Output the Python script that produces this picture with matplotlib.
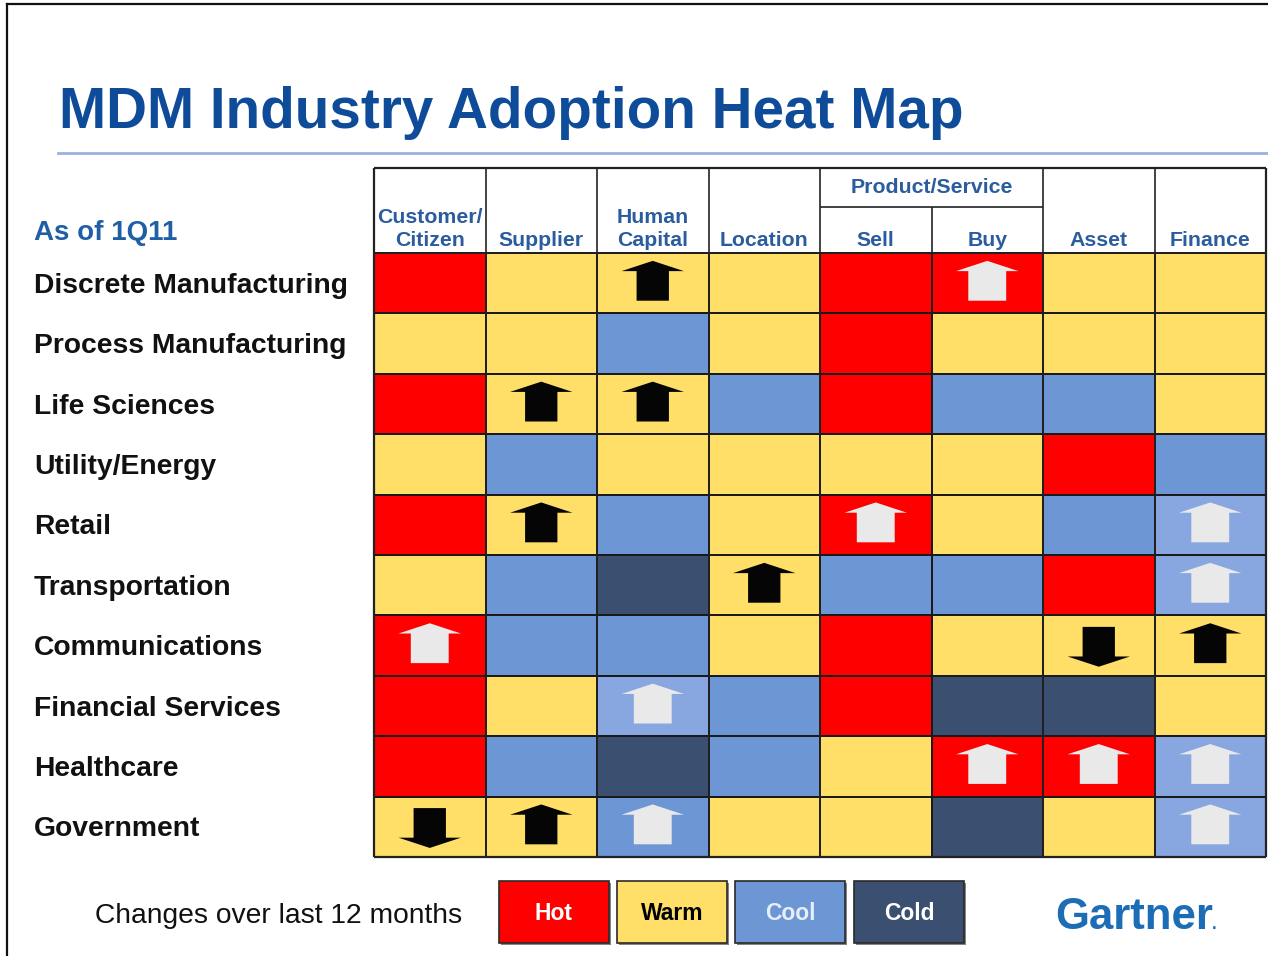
import matplotlib
matplotlib.use("Agg")
import matplotlib.pyplot as plt
import numpy as np
from matplotlib.colors import ListedColormap
from matplotlib.patches import Polygon, Rectangle
from matplotlib.lines import Line2D
import matplotlib.transforms as mtransforms

plt.rcParams['font.family'] = ['Liberation Sans', 'DejaVu Sans']

# ---------------- data ----------------
title = "MDM Industry Adoption Heat Map"
as_of = "As of 1Q11"
industries = ["Discrete Manufacturing", "Process Manufacturing", "Life Sciences",
              "Utility/Energy", "Retail", "Transportation", "Communications",
              "Financial Services", "Healthcare", "Government"]
domains = ["Customer/\nCitizen", "Supplier", "Human\nCapital", "Location",
           "Sell", "Buy", "Asset", "Finance"]
group_label = "Product/Service"
group_span = (4, 6)  # Sell..Buy

levels = ["Hot", "Warm", "Cool", "Cold"]
heat = [
    ["Hot",  "Warm", "Warm", "Warm", "Hot",  "Hot",  "Warm", "Warm"],
    ["Warm", "Warm", "Cool", "Warm", "Hot",  "Warm", "Warm", "Warm"],
    ["Hot",  "Warm", "Warm", "Cool", "Hot",  "Cool", "Cool", "Warm"],
    ["Warm", "Cool", "Warm", "Warm", "Warm", "Warm", "Hot",  "Cool"],
    ["Hot",  "Warm", "Cool", "Warm", "Hot",  "Warm", "Cool", "Cool"],
    ["Warm", "Cool", "Cold", "Warm", "Cool", "Cool", "Hot",  "Cool"],
    ["Hot",  "Cool", "Cool", "Warm", "Hot",  "Warm", "Warm", "Warm"],
    ["Hot",  "Warm", "Cool", "Cool", "Hot",  "Cold", "Cold", "Warm"],
    ["Hot",  "Cool", "Cold", "Cool", "Warm", "Hot",  "Hot",  "Cool"],
    ["Warm", "Warm", "Cool", "Warm", "Warm", "Cold", "Warm", "Cool"],
]
# +1 = rising, -1 = falling, 0 = no change (last 12 months)
trend = [
    [0, 0, 1, 0, 0, 1, 0, 0],
    [0, 0, 0, 0, 0, 0, 0, 0],
    [0, 1, 1, 0, 0, 0, 0, 0],
    [0, 0, 0, 0, 0, 0, 0, 0],
    [0, 1, 0, 0, 1, 0, 0, 1],
    [0, 0, 0, 1, 0, 0, 0, 1],
    [1, 0, 0, 0, 0, 0, -1, 1],
    [0, 0, 1, 0, 0, 0, 0, 0],
    [0, 0, 0, 0, 0, 1, 1, 1],
    [-1, 1, 1, 0, 0, 0, 0, 1],
]
# cool cells rendered in a lighter tint in the original
lit_cells = [(4, 7), (5, 7), (7, 2), (8, 7), (9, 7)]
legend_caption = "Changes over last 12 months"
brand = "Gartner"

# ---------------- style ----------------
level_colors = {"Hot": "#FF0000", "Warm": "#FFDF68", "Cool": "#6D96D4", "Cold": "#3B5070"}
cool_lit = "#88A6E0"
legend_text_colors = {"Hot": "white", "Warm": "black", "Cool": "#E8EEF8", "Cold": "white"}
hdr_blue = "#2A5C9E"
title_blue = "#0E4C9A"

W, H = 1268, 956
fig = plt.figure(figsize=(W / 100, H / 100), dpi=100)
fig.patch.set_facecolor("white")

def fx(px): return px / W
def fy(py): return 1 - py / H

# frame lines
fig.add_artist(Line2D([fx(7), fx(7)], [fy(4), 0], color="#111111", lw=1.6))
fig.add_artist(Line2D([fx(7), 1], [fy(4), fy(4)], color="#111111", lw=1.6))

# title + rule
fig.text(fx(59), fy(128), title, fontsize=40.8, fontweight="bold", color=title_blue,
         va="baseline", ha="left")
fig.add_artist(Line2D([fx(58), 1], [fy(153), fy(153)], color="#9AB2DE", lw=2))

# ---------------- heat grid ----------------
row_px = 60.4
hdr_h = 85 / row_px
ax = fig.add_axes([fx(374), fy(857), fx(1266) - fx(374), (857 - 168) / H])
ax.set_xlim(0, len(domains))
ax.set_ylim(len(industries), -hdr_h)
ax.axis("off")

nr, nc = len(industries), len(domains)
cmap_list = [level_colors[l] for l in levels] + [cool_lit]
codes = np.zeros((nr, nc))
for i in range(nr):
    for j in range(nc):
        codes[i, j] = 4 if (i, j) in lit_cells else levels.index(heat[i][j])
ax.pcolormesh(np.arange(nc + 1), np.arange(nr + 1), codes,
              cmap=ListedColormap(cmap_list), vmin=-0.5, vmax=4.5,
              edgecolors="#1A1A1A", linewidth=1.2)

# header borders
lc = "#222222"
ax.hlines([-hdr_h, nr], 0, nc, color=lc, lw=1.6, clip_on=False)
ax.hlines(0, 0, nc, color=lc, lw=1.2, clip_on=False)
grp_line = -(253 - 207) / row_px
ax.hlines(grp_line, group_span[0], group_span[1], color=lc, lw=1.2, clip_on=False)
for x in range(nc + 1):
    if x == group_span[0] + 1:
        ax.vlines(x, grp_line, 0, color=lc, lw=1.2, clip_on=False)
    else:
        ax.vlines(x, -hdr_h, nr, color=lc, lw=1.6 if x in (0, nc) else 1.2, clip_on=False)

# header text
base = -(253 - 246) / row_px
line_gap = 23 / row_px
for j, name in enumerate(domains):
    parts = name.split("\n")
    for k, part in enumerate(reversed(parts)):
        ax.text(j + 0.5, base - k * line_gap, part, ha="center", va="baseline",
                fontsize=15.3, fontweight="bold", color=hdr_blue)
ax.text((group_span[0] + group_span[1]) / 2, -(253 - 193) / row_px, group_label,
        ha="center", va="baseline", fontsize=15.3, fontweight="bold", color=hdr_blue)

# arrows
def arrow_verts(c, r, direction, shaft_hw):
    cx = c + 0.5
    hw = 0.28
    if direction > 0:
        tip, hb, bot = r + 0.13, r + 0.30, r + 0.79
        return [(cx, tip), (cx + hw, hb), (cx + shaft_hw, hb), (cx + shaft_hw, bot),
                (cx - shaft_hw, bot), (cx - shaft_hw, hb), (cx - hw, hb)]
    else:
        top, hb, tip = r + 0.19, r + 0.68, r + 0.85
        return [(cx - shaft_hw, top), (cx + shaft_hw, top), (cx + shaft_hw, hb),
                (cx + hw, hb), (cx, tip), (cx - hw, hb), (cx - shaft_hw, hb)]

for i in range(nr):
    for j in range(nc):
        t = trend[i][j]
        if t == 0:
            continue
        dark = heat[i][j] == "Warm"
        col = "#050505" if dark else "#E9E9EA"
        shw = 0.145 if dark else 0.17
        ax.add_patch(Polygon(arrow_verts(j, i, t, shw), closed=True,
                             facecolor=col, edgecolor="none", zorder=5))

# row labels
trans = mtransforms.blended_transform_factory(fig.transFigure, ax.transData)
for i, name in enumerate(industries):
    ax.text(fx(34), i + 0.66, name, transform=trans, ha="left", va="baseline",
            fontsize=20.3, fontweight="bold", color="#111111")

fig.text(fx(34), fy(240), as_of, ha="left", va="baseline", fontsize=20,
         fontweight="bold", color="#1F5FA6")

# ---------------- legend ----------------
fig.text(fx(95), fy(923), legend_caption, ha="left", va="baseline", fontsize=20.3,
         color="#111111")
box_x = [499, 617, 735, 854]
for lv, bx in zip(levels, box_x):
    fig.add_artist(Rectangle((fx(bx + 2), fy(945)), fx(110), (943 - 881) / H,
                             facecolor="#333333", edgecolor="none", alpha=0.6))
    fig.add_artist(Rectangle((fx(bx), fy(943)), fx(110), (943 - 881) / H,
                             facecolor=level_colors[lv], edgecolor="#2A2A2A", lw=1.2))
    fig.text(fx(bx + 55), fy(920), lv, ha="center", va="baseline", fontsize=16.5,
             fontweight="bold", color=legend_text_colors[lv])

fig.text(fx(1055), fy(929), brand, ha="left", va="baseline", fontsize=31.5,
         fontweight="bold", color="#1C6DB5")
fig.text(fx(1212), fy(929), ".", ha="left", va="baseline", fontsize=12,
         fontweight="bold", color="#1C6DB5")

fig.savefig("out.png", dpi=100)
